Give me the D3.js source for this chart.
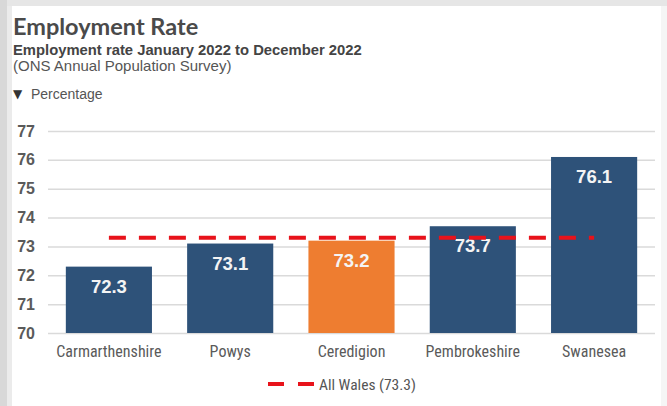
<!DOCTYPE html>
<html><head><meta charset="utf-8">
<script src="https://cdn.jsdelivr.net/npm/d3@7"></script>
<style>
html,body{margin:0;padding:0;background:#fff;}
svg{display:block;}
</style></head>
<body>
<svg id="c" width="667" height="406"></svg>
<script>
const categories = ["Carmarthenshire","Powys","Ceredigion","Pembrokeshire","Swanesea"];
const values = [72.3, 73.1, 73.2, 73.7, 76.1];
const highlight = ["Ceredigion"];
const walesValue = 73.3;
const yTicks = [70,71,72,73,74,75,76,77];
const title = "Employment Rate";
const subtitle = "Employment rate January 2022 to December 2022";
const source = "(ONS Annual Population Survey)";
const unitLabel = "Percentage";
const legendLabel = "All Wales (73.3)";

const svg = d3.select("#c");
const W = 667, H = 406;
const narrow = "'Roboto Condensed','Liberation Sans Narrow',sans-serif";
const fontMain = "'Liberation Sans',Arial,sans-serif";

// background frame
svg.append("rect").attr("x",0).attr("y",0).attr("width",W).attr("height",H).attr("fill","#fff");
svg.append("rect").attr("x",0).attr("y",0).attr("width",W).attr("height",6).attr("fill","#e6e6e6");
svg.append("rect").attr("x",0).attr("y",0).attr("width",7).attr("height",H).attr("fill","#d8d8d8");
svg.append("rect").attr("x",7).attr("y",6).attr("width",5).attr("height",H).attr("fill","#ebebeb");
svg.append("rect").attr("x",661).attr("y",6).attr("width",6).attr("height",H).attr("fill","#f5f5f5");

// titles
svg.append("text").attr("x",13).attr("y",35).text(title)
  .attr("font-family","Lato,'Liberation Sans',sans-serif").attr("font-size",23.5).attr("font-weight",700).attr("fill","#4a4a4a");
svg.append("text").attr("x",13).attr("y",55).text(subtitle)
  .attr("font-family",fontMain).attr("font-size",14.8).attr("font-weight",700).attr("fill","#444");
svg.append("text").attr("x",13).attr("y",71).text(source)
  .attr("font-family",fontMain).attr("font-size",15).attr("fill","#555");
svg.append("text").attr("x",13).attr("y",98).text("\u25BC")
  .attr("font-family","'DejaVu Sans',sans-serif").attr("font-size",12).attr("fill","#333");
svg.append("text").attr("x",31).attr("y",99).text(unitLabel)
  .attr("font-family",fontMain).attr("font-size",14).attr("fill","#555");

// scales
const x = d3.scaleBand().domain(categories).range([48,655]).paddingInner(0.29).paddingOuter(0.147);
const y = d3.scaleLinear().domain([70,77]).range([333,131]);

// grid
const yAxis = d3.axisLeft(y).tickValues(yTicks).tickSize(-(655-48)).tickFormat(d3.format("d"));
const gY = svg.append("g").attr("transform","translate(48,0)").call(yAxis);
gY.select(".domain").remove();
gY.selectAll(".tick line").attr("stroke","#dadada").attr("stroke-width",1.5);
gY.selectAll(".tick text").attr("x",-13).attr("font-family",fontMain).attr("font-weight",700)
  .attr("font-size",16).attr("fill","#5a5a5a");

// bars
svg.append("g").selectAll("rect").data(categories).join("rect")
  .attr("x",d=>x(d)).attr("width",x.bandwidth())
  .attr("y",(d,i)=>y(values[i])).attr("height",(d,i)=>y(70)-y(values[i]))
  .attr("fill",d=>highlight.includes(d)?"#ee7d30":"#2e5279");

// value labels
svg.append("g").selectAll("text").data(categories).join("text")
  .attr("x",d=>x(d)+x.bandwidth()/2).attr("y",(d,i)=>y(values[i])+26)
  .attr("text-anchor","middle").text((d,i)=>values[i].toFixed(1))
  .attr("font-family",fontMain).attr("font-size",18.5).attr("font-weight",700).attr("fill","#f4f4f4");

// All Wales line
svg.append("line")
  .attr("x1",x(categories[0])+x.bandwidth()/2).attr("x2",x(categories[categories.length-1])+x.bandwidth()/2)
  .attr("y1",y(walesValue)).attr("y2",y(walesValue))
  .attr("stroke","#e8131b").attr("stroke-width",4).attr("stroke-dasharray","17,13");

// x axis labels
const xAxis = d3.axisBottom(x).tickSize(0).tickPadding(13);
const gX = svg.append("g").attr("transform","translate(0,333)").call(xAxis);
gX.select(".domain").remove();
gX.selectAll(".tick text").attr("font-family",narrow).attr("font-size",16).attr("fill","#5a5a5a");

// legend
const lg = svg.append("g").attr("transform","translate(268,384)");
lg.append("line").attr("x1",0).attr("x2",48).attr("y1",0).attr("y2",0)
  .attr("stroke","#e8131b").attr("stroke-width",4).attr("stroke-dasharray","16,14");
lg.append("text").attr("x",51).attr("y",5.5).text(legendLabel)
  .attr("font-family",narrow).attr("font-size",15.5).attr("fill","#555");
</script>
</body></html>
